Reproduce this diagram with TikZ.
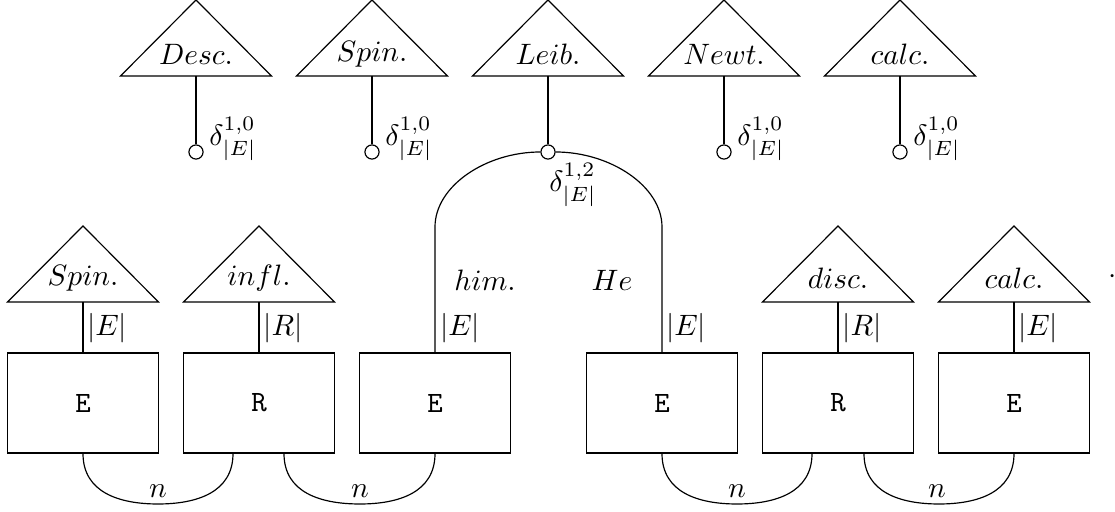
\documentclass[tikz,border=0pt]{standalone}
\usetikzlibrary{calc}
\begin{document}
\begin{tikzpicture}[x=0.339pt,y=-0.339pt,
  ln/.style={draw=black,line width=0.4pt},
  lab/.style={inner sep=0pt},
  port/.style={circle,draw=black,fill=white,minimum size=4.8pt,inner sep=0pt},
  ebox/.style={draw=black,minimum width=51.2pt,minimum height=33.9pt,inner sep=0pt},
  card/.style={inner sep=0pt}]
\useasboundingbox (0,0) rectangle (1115,512);
% top row
\foreach \n/\x/\t in {a/196/Desc., b/372/Spin., c/548/Leib., d/724/Newt., e/900/calc.}{
  \draw[ln] (\x-75.5,76) -- (\x,0) -- (\x+75.5,76) -- cycle;
  \node[lab] (t\n) at (\x,54) {$\t$};
  \coordinate (tb\n) at (\x,76);
}
\foreach \n/\x in {a/196, b/372, d/724, e/900}{
  \node[port] (p\n) at (\x,152) {};
  \draw[ln] (tb\n) -- (p\n);
  \node[card] (dl\n) at (\x+37,139) {$\delta^{1,0}_{|E|}$};
}
\node[port] (pc) at (548,152) {};
\draw[ln] (tbc) -- (pc);
\node[card] (dlc) at (573,185) {$\delta^{1,2}_{|E|}$};
% boxes
\node[ebox] (b1) at (83,403) {\texttt{E}};
\node[ebox] (b2) at (259,403) {\texttt{R}};
\node[ebox] (b3) at (435,403) {\texttt{E}};
\node[ebox] (b4) at (662,403) {\texttt{E}};
\node[ebox] (b5) at (838,403) {\texttt{R}};
\node[ebox] (b6) at (1014,403) {\texttt{E}};
% bottom triangles
\foreach \n/\x/\t/\c in {1/83/Spin./E, 2/259/infl./R, 5/838/disc./R, 6/1014/calc./E}{
  \draw[ln] (\x-75.5,302) -- (\x,226) -- (\x+75.5,302) -- cycle;
  \node[lab] (s\n) at (\x,278) {$\t$};
  \coordinate (sb\n) at (\x,302);
  \draw[ln] (sb\n) -- (b\n.north);
  \node[card] (c\n) at (\x+24,328) {$|\c|$};
}
% top arc
\draw[ln] (b3.north) -- (435,227) .. controls (435,186) and (486,152) .. (pc.west);
\draw[ln] (pc.east) .. controls (610,152) and (662,186) .. (662,227) -- (b4.north);
\node[card] (c3) at (460,328) {$|E|$};
\node[card] (c4) at (686,328) {$|E|$};
\node[lab] (him) at (485,280) {$him.$};
\node[lab] (he) at (612,280) {$He$};
% bottom arcs
\draw[ln] (b1.south) to[out=-90,in=180,looseness=1.1] (158,504) to[out=0,in=-90,looseness=1.1] ($(b2.south)+(-26,0)$);
\draw[ln] ($(b2.south)+(25,0)$) to[out=-90,in=180,looseness=1.1] (360,504) to[out=0,in=-90,looseness=1.1] (b3.south);
\draw[ln] (b4.south) to[out=-90,in=180,looseness=1.1] (737,504) to[out=0,in=-90,looseness=1.1] ($(b5.south)+(-26,0)$);
\draw[ln] ($(b5.south)+(26,0)$) to[out=-90,in=180,looseness=1.1] (939,504) to[out=0,in=-90,looseness=1.1] (b6.south);
\node[lab] (n1) at (158,491) {$n$};
\node[lab] (n2) at (360,491) {$n$};
\node[lab] (n3) at (737,491) {$n$};
\node[lab] (n4) at (937,491) {$n$};
\node[lab] (dot) at (1113,277) {$\cdot$};
\end{tikzpicture}
\end{document}
